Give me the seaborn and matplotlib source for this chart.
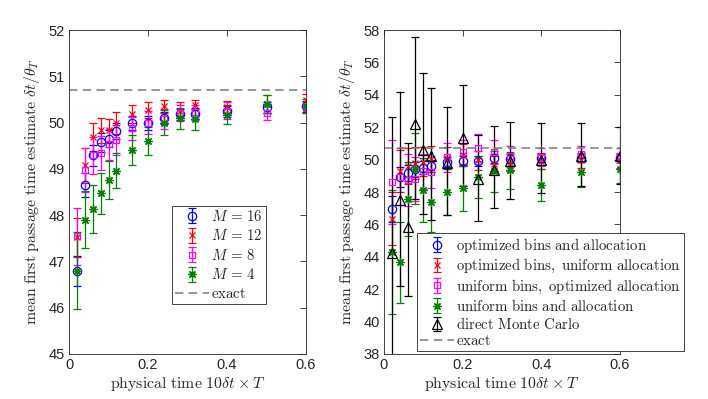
import numpy as np
import matplotlib
matplotlib.use("Agg")
import matplotlib.pyplot as plt
from matplotlib.ticker import FuncFormatter, MultipleLocator
import seaborn as sns

# ---------------- data ----------------
T = [0.02, 0.04, 0.06, 0.08, 0.10, 0.12, 0.16, 0.20, 0.24, 0.28, 0.32, 0.40, 0.50, 0.60]

# left panel: number of bins M
m16 = [46.79, 48.65, 49.29, 49.57, 49.65, 49.82, 49.99, 49.99, 50.10, 50.18, 50.19, 50.24, 50.33, 50.35]
m16_err = [0.33, 0.25, 0.22, 0.20, 0.18, 0.17, 0.15, 0.15, 0.13, 0.12, 0.12, 0.12, 0.12, 0.12]
m12 = [47.52, 49.08, 49.68, 49.83, 49.83, 49.99, 50.19, 50.27, 50.35, 50.25, 50.38, 50.33, 50.40, 50.49]
m12_err = [0.42, 0.38, 0.30, 0.27, 0.24, 0.23, 0.19, 0.17, 0.14, 0.20, 0.11, 0.13, 0.19, 0.12]
m8 = [47.54, 48.98, 49.29, 49.34, 49.53, 49.62, 49.88, 50.00, 50.08, 50.20, 50.22, 50.26, 50.20, 50.32]
m8_err = [0.62, 0.48, 0.40, 0.36, 0.34, 0.32, 0.25, 0.24, 0.22, 0.17, 0.16, 0.18, 0.15, 0.12]
m4 = [46.80, 47.90, 48.14, 48.47, 48.76, 48.96, 49.41, 49.60, 50.00, 50.09, 50.07, 50.17, 50.40, 50.36]
m4_err = [0.83, 0.62, 0.52, 0.45, 0.42, 0.38, 0.33, 0.30, 0.27, 0.23, 0.23, 0.21, 0.19, 0.16]

# right panel: strategies
opt_both = [46.95, 48.95, 49.19, 49.40, 49.50, 49.62, 49.85, 49.90, 49.92, 50.08, 50.05, 50.08, 50.12, 50.12]
opt_both_err = [0.80, 0.62, 0.50, 0.45, 0.40, 0.38, 0.32, 0.30, 0.30, 0.28, 0.27, 0.25, 0.24, 0.22]
opt_bins = [46.35, 49.30, 49.62, 49.80, 49.88, 50.05, 50.10, 50.30, 49.95, 49.70, 49.80, 49.90, 49.95, 49.95]
opt_bins_err = [1.65, 1.30, 1.10, 1.00, 0.90, 0.80, 0.70, 0.65, 0.60, 0.55, 0.52, 0.50, 0.45, 0.45]
opt_alloc = [48.62, 48.95, 48.76, 48.78, 49.27, 49.22, 50.15, 50.45, 50.74, 50.45, 50.20, 50.15, 50.35, 50.25]
opt_alloc_err = [2.60, 1.75, 1.60, 1.35, 1.10, 1.00, 0.90, 0.75, 0.85, 0.75, 0.65, 0.55, 0.50, 0.45]
uniform = [44.30, 43.66, 47.57, 49.45, 48.12, 47.40, 48.00, 48.22, 48.95, 49.28, 49.35, 48.43, 49.21, 49.42]
uniform_err = [3.85, 2.50, 2.30, 2.20, 2.00, 1.85, 1.45, 1.40, 1.30, 1.25, 1.15, 1.00, 0.90, 0.85]
direct = [44.22, 47.50, 45.86, 52.18, 50.62, 50.20, 49.77, 51.31, 48.78, 49.35, 49.90, 50.00, 50.20, 50.20]
direct_hi = [8.40, 6.70, 5.18, 5.41, 4.70, 4.20, 3.50, 3.30, 2.76, 2.72, 2.45, 2.24, 2.08, 1.80]
direct_lo = [7.00, 5.30, 4.28, 4.62, 3.95, 3.90, 3.22, 2.96, 2.60, 2.35, 2.33, 2.08, 1.81, 1.73]

exact = 50.71

left_labels = [r"$M\,=\,16$", r"$M\,=\,12$", r"$M\,=\,8$", r"$M\,=\,4$"]
right_labels = [r"$\mathrm{optimized\ bins\ and\ allocation}$",
                r"$\mathrm{optimized\ bins,\ uniform\ allocation}$",
                r"$\mathrm{uniform\ bins,\ optimized\ allocation}$",
                r"$\mathrm{uniform\ bins\ and\ allocation}$",
                r"$\mathrm{direct\ Monte\ Carlo}$"]
exact_label = r"$\mathrm{exact}$"
xlabel = r"$\mathrm{physical\ time}\ 10\delta t\times T$"
ylabel = r"$\mathrm{mean\ first\ passage\ time\ estimate}\ \delta t/\theta_T$"

# ---------------- style ----------------
sns.set_theme(style="white")
plt.rcParams["font.family"] = ["Liberation Sans", "DejaVu Sans"]
plt.rcParams["mathtext.fontset"] = "cm"

BLUE, RED, MAG, GRN, BLK = "#0000ff", "#ff0000", "#ff00ff", "#008000", "#000000"
styles = [
    dict(color=BLUE, marker="o", mfc="none", ms=6),
    dict(color=RED, marker="x", mfc="none", ms=4.5),
    dict(color=MAG, marker="s", mfc="none", ms=5),
    dict(color=GRN, marker=(8, 2, 0), mfc="none", ms=6),
    dict(color=BLK, marker="^", mfc="none", ms=6.5),
]

fig = plt.figure(figsize=(7.08, 3.99), dpi=100)
axL = fig.add_axes([69 / 708, 45 / 399, 237 / 708, 324 / 399])
axR = fig.add_axes([384 / 708, 45 / 399, 236 / 708, 324 / 399])


def draw(ax, y, err, st, label):
    return ax.errorbar(T, y, yerr=err, linestyle="none", capsize=3, elinewidth=0.9,
                       capthick=0.9, mew=0.9, label=label, **st)


handlesL = []
for y, e, st, lab in zip([m16, m12, m8, m4], [m16_err, m12_err, m8_err, m4_err],
                         styles[:4], left_labels):
    handlesL.append(draw(axL, y, e, st, lab))

handlesR = []
for y, e, st, lab in zip([opt_both, opt_bins, opt_alloc, uniform, direct],
                         [opt_both_err, opt_bins_err, opt_alloc_err, uniform_err,
                          [direct_lo, direct_hi]],
                         styles, right_labels):
    handlesR.append(draw(axR, y, e, st, lab))

for ax in (axL, axR):
    ax.plot([0, 0.6], [exact, exact], ls=(0, (5.5, 3.5)), color="#7a7a7a",
            lw=1.1, label=exact_label)
    ax.set_xlim(0, 0.6)
    ax.xaxis.set_major_locator(MultipleLocator(0.2))
    ax.xaxis.set_major_formatter(FuncFormatter(lambda v, p: "%g" % round(v, 2)))
    ax.tick_params(direction="in", top=True, right=True, length=4, width=0.6,
                   colors="#262626", labelsize=10.5, pad=3)
    for s in ax.spines.values():
        s.set_color("#262626")
        s.set_linewidth(0.6)
    ax.set_xlabel(xlabel, fontsize=11.4, color="#262626", labelpad=2)
    ax.set_ylabel(ylabel, fontsize=11.4, color="#262626", labelpad=5)

axL.set_ylim(45, 52)
axL.yaxis.set_major_locator(MultipleLocator(1))
axR.set_ylim(38, 58)
axR.yaxis.set_major_locator(MultipleLocator(2))

legkw = dict(frameon=True, fancybox=False, edgecolor="#262626", framealpha=1,
             fontsize=10.7, handlelength=2.3, handletextpad=0.15, borderpad=0.2,
             borderaxespad=0)
legL = axL.legend(handles=handlesL + [axL.lines[-1]], loc="upper left",
                  bbox_to_anchor=(172 / 708, 1 - 206 / 399),
                  bbox_transform=fig.transFigure, labelspacing=0.3, **legkw)
legR = axR.legend(handles=handlesR + [axR.lines[-1]], loc="upper left",
                  bbox_to_anchor=(417 / 708, 1 - 233 / 399),
                  bbox_transform=fig.transFigure, labelspacing=0.15, **legkw)
for lg in (legL, legR):
    lg.get_frame().set_linewidth(0.6)
    lg.set_zorder(10)

fig.savefig("out.png", dpi=100)
